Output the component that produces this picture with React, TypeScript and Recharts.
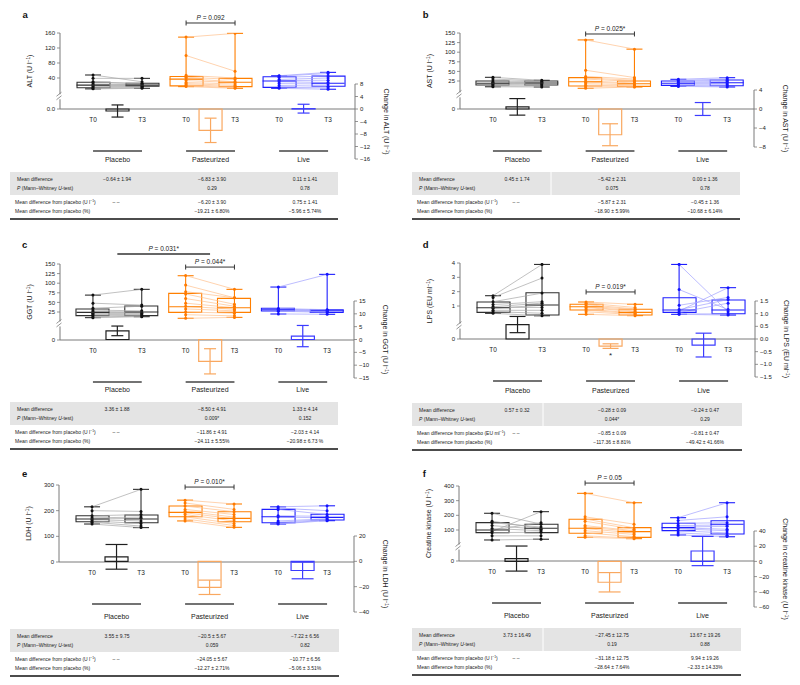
import React from 'react';
import { ComposedChart, Bar, Cell, Scatter, ErrorBar, XAxis, YAxis, ReferenceLine } from 'recharts';

const FONT = '"Liberation Sans", Arial, Helvetica, sans-serif';
const TEXT = '#222';
const AXIS = '#7a7a7a';

const groupNames = ['Placebo', 'Pasteurized', 'Live'];
const timeNames = ['T0', 'T3'];
const boxColors = ['#2f2f2f', '#ff7f00', '#1e1eff'];
const pointColors = ['#111111', '#ff7a00', '#1414ff'];
const pairColors = ['#a6a6a6', '#ffc08c', '#a0a0ff'];
const changeColors = ['#1f1f1f', '#f9a860', '#3c3cff'];
const tableRowLabels = ['Mean difference', 'Mean difference from placebo', 'Mean difference from placebo (%)'];

// ---------- a: ALT ----------
const altT0 = [
  [48, 39, 30, 28, 24, 22, 20, 17, 14, 12, 11],
  [149, 100, 47, 42, 38, 33, 28, 25, 22, 20, 17],
  [46, 45, 42, 36, 33, 30, 25, 20, 15, 12.5],
];
const altT3 = [
  [30, 39, 24, 26, 22, 21, 20, 18, 17, 15, 12.5],
  [159, 58, 40, 36, 30, 28, 24, 20, 17, 14, 12.5],
  [55, 52, 45, 40, 34, 28, 24, 18, 14, 10],
];
const altBoxT0 = [[11, 14, 21, 28.5, 48], [17, 19, 37, 44, 149], [12.5, 15, 32, 43.5, 46]];
const altBoxT3 = [[12.5, 18, 21, 26, 39], [12.5, 17, 28.5, 39, 159], [10, 18, 26, 45, 55]];
const altChange = [-0.64, -6.83, 0.11];
const altSem = [1.94, 3.9, 1.41];
const altSig = [false, false, false];
const altBracketP = ['0.092'];
const altMeanDiff = ['−0.64 ± 1.94', '−6.83 ± 3.90', '0.11 ± 1.41'];
const altMW = ['', '0.29', '0.78'];
const altDiffAbs = ['– –', '−6.20 ± 3.90', '0.75 ± 1.41'];
const altDiffPct = ['', '−19.21 ± 6.80%', '−5.96 ± 5.74%'];

// ---------- b: AST ----------
const astT0 = [
  [34.6, 30, 25, 22, 20, 19, 17, 15, 12, 10],
  [132, 53, 37, 33, 30, 25, 22, 18, 14, 10, 6],
  [29.4, 27, 25, 22, 20, 18, 15, 13, 11],
];
const astT3 = [
  [26.8, 25, 24, 22, 21, 19, 18, 15, 12, 9.4],
  [108, 34, 30, 27, 24, 20, 18, 15, 12, 10, 9.4],
  [33.7, 30, 27, 24, 21, 18, 15, 12, 9.4],
];
const astBoxT0 = [[10, 14.6, 19, 25, 34.6], [6, 12, 23, 33.7, 132], [11, 13.7, 19, 25, 29.4]];
const astBoxT3 = [[9.4, 14.6, 19.8, 25, 26.8], [9.4, 11, 18, 25, 108], [9.4, 12.8, 20.6, 27.6, 33.7]];
const astChange = [0.45, -5.42, 0.0];
const astSem = [1.74, 2.31, 1.36];
const astSig = [false, false, false];
const astBracketP = ['0.025*'];
const astMeanDiff = ['0.45 ± 1.74', '−5.42 ± 2.31', '0.00 ± 1.36'];
const astMW = ['', '0.075', '0.78'];
const astDiffAbs = ['– –', '−5.87 ± 2.31', '−0.45 ± 1.36'];
const astDiffPct = ['', '−18.90 ± 5.99%', '−10.68 ± 6.14%'];

// ---------- c: GGT ----------
const ggtT0 = [
  [69, 48, 35, 30, 26, 24, 22, 20, 18, 15, 12, 10.3],
  [120, 95, 78, 72, 60, 48, 40, 33, 25, 18, 8.6],
  [90, 34, 32, 31, 30, 28, 27, 20],
];
const ggtT3 = [
  [84, 43, 40, 28, 25, 24, 22, 20, 18, 16, 14, 12.8],
  [84, 62, 62, 45, 40, 36, 32, 28, 22, 15, 11],
  [123, 31, 30, 29, 28, 26, 24, 19],
];
const ggtBoxT0 = [[10.3, 15.5, 24, 32.8, 69], [8.6, 24, 38.8, 73.6, 119.5], [19.8, 27.6, 31, 34.6, 90]];
const ggtBoxT3 = [[12.8, 15.5, 25, 40.6, 84], [11, 24, 36, 60.6, 84], [19, 24, 28.4, 31, 123]];
const ggtChange = [3.36, -8.5, 1.33];
const ggtSem = [1.88, 4.91, 4.14];
const ggtSig = [false, true, false];
const ggtBracketP = ['0.044*', '0.031*'];
const ggtMeanDiff = ['3.36 ± 1.88', '−8.50 ± 4.91', '1.33 ± 4.14'];
const ggtMW = ['', '0.009*', '0.152'];
const ggtDiffAbs = ['– –', '−11.86 ± 4.91', '−2.03 ± 4.14'];
const ggtDiffPct = ['', '−24.11 ± 5.55%', '−20.98 ± 6.73 %'];

// ---------- d: LPS ----------
const lpsT0 = [
  [1.72, 1.6, 1.3, 1.1, 0.95, 0.9, 0.85, 0.7, 0.6, 0.49],
  [1.28, 1.2, 1.1, 1.0, 0.95, 0.9, 0.8, 0.72, 0.6, 0.42],
  [3.9, 2.15, 1.05, 0.75, 0.65, 0.55, 0.45, 0.42],
];
const lpsT3 = [
  [3.9, 2.95, 1.9, 1.3, 1.2, 0.9, 1.05, 0.7, 0.5, 0.32],
  [1.12, 0.9, 0.8, 0.75, 0.65, 0.6, 0.5, 0.45, 0.4, 0.33],
  [0.6, 0.75, 1.6, 1.45, 2.28, 1.2, 0.45, 0.37],
];
const lpsBoxT0 = [[0.49, 0.56, 0.88, 1.28, 1.72], [0.42, 0.72, 0.95, 1.12, 1.28], [0.42, 0.56, 0.72, 1.58, 3.9]];
const lpsBoxT3 = [[0.32, 0.37, 1.07, 1.93, 3.9], [0.33, 0.37, 0.56, 0.77, 1.12], [0.37, 0.46, 0.72, 1.42, 2.28]];
const lpsChange = [0.57, -0.28, -0.24];
const lpsSem = [0.32, 0.09, 0.47];
const lpsSig = [false, true, false];
const lpsBracketP = ['0.019*'];
const lpsMeanDiff = ['0.57 ± 0.32', '−0.28 ± 0.09', '−0.24 ± 0.47'];
const lpsMW = ['', '0.044*', '0.29'];
const lpsDiffAbs = ['– –', '−0.85 ± 0.09', '−0.81 ± 0.47'];
const lpsDiffPct = ['', '−117.36 ± 8.81%', '−49.42 ± 41.66%'];

// ---------- e: LDH ----------
const ldhT0 = [
  [215, 200, 180, 172, 168, 165, 160, 155, 148],
  [241, 230, 218, 205, 198, 192, 185, 176, 168, 160],
  [215, 210, 205, 180, 175, 160, 155, 150, 148],
];
const ldhT3 = [
  [283, 197, 185, 175, 170, 160, 150, 140, 134],
  [226, 205, 196, 185, 175, 168, 160, 150, 142, 135],
  [219, 200, 185, 178, 172, 168, 165, 163, 161],
];
const ldhBoxT0 = [[148, 157, 167.5, 180, 215], [160, 176.5, 193.5, 218, 241], [148, 153, 176.5, 205, 215]];
const ldhBoxT3 = [[134, 153, 167.5, 183, 283], [135, 157, 170, 196, 226], [161, 163.6, 174, 186, 219]];
const ldhChange = [3.55, -20.5, -7.22];
const ldhSem = [9.75, 5.67, 6.56];
const ldhSig = [false, false, false];
const ldhBracketP = ['0.010*'];
const ldhMeanDiff = ['3.55 ± 9.75', '−20.5 ± 5.67', '−7.22 ± 6.56'];
const ldhMW = ['', '0.059', '0.82'];
const ldhDiffAbs = ['– –', '−24.05 ± 5.67', '−10.77 ± 6.56'];
const ldhDiffPct = ['', '−12.27 ± 2.71%', '−5.06 ± 3.51%'];

// ---------- f: Creatine kinase ----------
const ckT0 = [
  [214, 160, 150, 130, 110, 100, 90, 82, 60, 32],
  [350, 190, 175, 160, 130, 120, 110, 95, 80, 60, 50],
  [184, 165, 145, 130, 120, 115, 108, 95, 80, 66],
];
const ckT3 = [
  [140, 110, 120, 105, 95, 150, 225, 85, 60, 37],
  [286, 140, 115, 105, 95, 90, 80, 70, 55, 45, 41],
  [286, 190, 150, 135, 125, 105, 95, 80, 65, 55],
];
const ckBoxT0 = [[32, 82, 100, 150, 214], [50, 77.5, 111.6, 173, 350], [66, 95.5, 116, 145.5, 184]];
const ckBoxT3 = [[37, 82, 111.6, 139, 225], [41, 50, 88.6, 116, 286], [54, 73, 139, 163, 286]];
const ckChange = [3.73, -27.45, 13.67];
const ckSem = [16.49, 12.75, 19.26];
const ckSig = [false, false, false];
const ckBracketP = ['0.05'];
const ckMeanDiff = ['3.73 ± 16.49', '−27.45 ± 12.75', '13.67 ± 19.26'];
const ckMW = ['', '0.19', '0.88'];
const ckDiffAbs = ['– –', '−31.18 ± 12.75', '9.94 ± 19.26'];
const ckDiffPct = ['', '−28.64 ± 7.64%', '−2.33 ± 14.33%'];

// ---------- layout (positions / styles only) ----------
const X_DOMAIN: [number, number] = [0, 12.05];
const T0_POS = [1.35, 5.15, 8.95];
type Kind = 'T0' | 'mid' | 'T3';
const KINDS: Kind[] = ['T0', 'mid', 'T3'];
const posOf = (g: number, k: Kind) => T0_POS[g] + (k === 'T0' ? 0 : k === 'mid' ? 1 : 2);
const X_TICKS = [0, 1, 2].flatMap((g) => KINDS.map((k) => posOf(g, k)));
const findKind = (v: number) => {
  for (let g = 0; g < 3; g++) for (const k of KINDS) if (Math.abs(posOf(g, k) - v) < 1e-6) return { g, k };
  return null;
};
const TABLE_COLS = [117, 212, 305];
const CHG_PAD = 14;

const layoutA = {
  ox: 0, oy: 0, plotL: 60, plotR: 355, valTop: 33, zeroY: 109, chgTop: 84, chgBot: 159,
  valDomain: [-42.67, 160], valTicks: [40, 80, 120, 160], zeroLabel: '0.0', breakAt: -10,
  chgDomain: [-16, 8], chgTicks: [-16, -12, -8, -4, 0, 4, 8], chgDigits: 0, cap: 6,
  brackets: [{ g1: 1, k1: 'T0', g2: 1, k2: 'T3', level: 186.7, ends: true, bold: false }],
  nameDy: 51, letterX: 22.5, letterY: 18, greyX: 10, greyW: 328, greyTop: 172, sepX: null,
};
const layoutB = {
  ox: 400, oy: 0, plotL: 460, plotR: 754, valTop: 33, zeroY: 109, chgTop: 90, chgBot: 147,
  valDomain: [-47.9, 150], valTicks: [25, 50, 75, 100, 125, 150], zeroLabel: '0', breakAt: -11,
  chgDomain: [-8, 4], chgTicks: [-8, -4, 0, 4], chgDigits: 0, cap: 8,
  brackets: [{ g1: 1, k1: 'T0', g2: 1, k2: 'T3', level: 147.4, ends: true, bold: false }],
  nameDy: 51, letterX: 22.7, letterY: 18, greyX: 12, greyW: 328, greyTop: 172, sepX: 151,
};
const layoutC = {
  ox: 0, oy: 228, plotL: 60, plotR: 354, valTop: 264, zeroY: 340, chgTop: 301, chgBot: 378,
  valDomain: [-47.9, 150], valTicks: [25, 50, 75, 100, 125, 150], zeroLabel: '0', breakAt: -6,
  chgDomain: [-15, 15], chgTicks: [-15, -10, -5, 0, 5, 10, 15], chgDigits: 0, cap: 6,
  brackets: [
    { g1: 1, k1: 'T0', g2: 1, k2: 'T3', level: 142, ends: true, bold: false },
    { g1: 0, k1: 'mid', g2: 1, k2: 'mid', level: 176, ends: false, bold: true },
  ],
  nameDy: 50, letterX: 22, letterY: 20, greyX: 10, greyW: 328, greyTop: 174, sepX: null,
};
const layoutD = {
  ox: 400, oy: 228, plotL: 460, plotR: 755, valTop: 263, zeroY: 339, chgTop: 301, chgBot: 377,
  valDomain: [-1.3, 4], valTicks: [1, 2, 3, 4], zeroLabel: '0', breakAt: -0.4,
  chgDomain: [-1.5, 1.5], chgTicks: [-1.5, -1, -0.5, 0, 0.5, 1, 1.5], chgDigits: 1, cap: 8,
  brackets: [{ g1: 1, k1: 'T0', g2: 1, k2: 'T3', level: 1.98, ends: true, bold: false }],
  nameDy: 52, letterX: 22.7, letterY: 20, greyX: 12, greyW: 330, greyTop: 175, sepX: 143,
};
const layoutE = {
  ox: 0, oy: 455, plotL: 59, plotR: 354, valTop: 485, zeroY: 562, chgTop: 536, chgBot: 612,
  valDomain: [0, 300], valTicks: [100, 200, 300], zeroLabel: '0', breakAt: null,
  chgDomain: [-40, 20], chgTicks: [-40, -20, 0, 20], chgDigits: 0, cap: 11,
  brackets: [{ g1: 1, k1: 'T0', g2: 1, k2: 'T3', level: 292, ends: true, bold: false }],
  nameDy: 55, letterX: 22, letterY: 22, greyX: 10, greyW: 329, greyTop: 174, sepX: null,
};
const layoutF = {
  ox: 400, oy: 455, plotL: 459, plotR: 754, valTop: 486, zeroY: 561, chgTop: 531, chgBot: 607,
  valDomain: [-111.4, 400], valTicks: [100, 200, 300, 400], zeroLabel: '0', breakAt: -16,
  chgDomain: [-60, 40], chgTicks: [-60, -40, -20, 0, 20, 40], chgDigits: 0, cap: 11,
  brackets: [{ g1: 1, k1: 'T0', g2: 1, k2: 'T3', level: 420, ends: true, bold: false }],
  nameDy: 55, letterX: 22.7, letterY: 22, greyX: 12, greyW: 329, greyTop: 173, sepX: 143,
};

const panels = [
  { letter: 'a', name: 'ALT', chgName: 'Change in ALT', unit: 'U l', t0: altT0, t3: altT3, boxT0: altBoxT0, boxT3: altBoxT3, change: altChange, sem: altSem, sig: altSig, bracketP: altBracketP, meanDiff: altMeanDiff, mw: altMW, diffAbs: altDiffAbs, diffPct: altDiffPct, layout: layoutA },
  { letter: 'b', name: 'AST', chgName: 'Change in AST', unit: 'U l', t0: astT0, t3: astT3, boxT0: astBoxT0, boxT3: astBoxT3, change: astChange, sem: astSem, sig: astSig, bracketP: astBracketP, meanDiff: astMeanDiff, mw: astMW, diffAbs: astDiffAbs, diffPct: astDiffPct, layout: layoutB },
  { letter: 'c', name: 'GGT', chgName: 'Change in GGT', unit: 'U l', t0: ggtT0, t3: ggtT3, boxT0: ggtBoxT0, boxT3: ggtBoxT3, change: ggtChange, sem: ggtSem, sig: ggtSig, bracketP: ggtBracketP, meanDiff: ggtMeanDiff, mw: ggtMW, diffAbs: ggtDiffAbs, diffPct: ggtDiffPct, layout: layoutC },
  { letter: 'd', name: 'LPS', chgName: 'Change in LPS', unit: 'EU ml', t0: lpsT0, t3: lpsT3, boxT0: lpsBoxT0, boxT3: lpsBoxT3, change: lpsChange, sem: lpsSem, sig: lpsSig, bracketP: lpsBracketP, meanDiff: lpsMeanDiff, mw: lpsMW, diffAbs: lpsDiffAbs, diffPct: lpsDiffPct, layout: layoutD },
  { letter: 'e', name: 'LDH', chgName: 'Change in LDH', unit: 'U l', t0: ldhT0, t3: ldhT3, boxT0: ldhBoxT0, boxT3: ldhBoxT3, change: ldhChange, sem: ldhSem, sig: ldhSig, bracketP: ldhBracketP, meanDiff: ldhMeanDiff, mw: ldhMW, diffAbs: ldhDiffAbs, diffPct: ldhDiffPct, layout: layoutE },
  { letter: 'f', name: 'Creatine kinase', chgName: 'Change in creatine kinase', unit: 'U l', t0: ckT0, t3: ckT3, boxT0: ckBoxT0, boxT3: ckBoxT3, change: ckChange, sem: ckSem, sig: ckSig, bracketP: ckBracketP, meanDiff: ckMeanDiff, mw: ckMW, diffAbs: ckDiffAbs, diffPct: ckDiffPct, layout: layoutF },
];

const fmt = (v: number, d: number) => (v < 0 ? '−' : '') + Math.abs(v).toFixed(d);

// "<name> (<unit>⁻¹)" with a real superscript built from tspans
const unitSpans = (name: string, unit: string, fs: number) => [
  `${name} (${unit}`,
  <tspan key="sup" dy={-fs * 0.38} fontSize={fs * 0.68}>−1</tspan>,
  <tspan key="end" dy={fs * 0.38}>)</tspan>,
];

const dotShape = (g: number) => (sp: any) => <circle cx={sp.cx} cy={sp.cy} r={1.5} fill={pointColors[g]} />;
const medianShape = (g: number) => (sp: any) => (
  <line x1={sp.cx - 16.5} x2={sp.cx + 16.5} y1={sp.cy} y2={sp.cy} stroke={boxColors[g]} strokeWidth={1.1} />
);
const emptyShape = () => <g />;
const starShape = (sp: any) => (
  <text x={sp.cx} y={sp.cy + 10} textAnchor="middle" fontSize={8} fill={TEXT} fontFamily={FONT}>*</text>
);
const bracketShape = (txt: string, ends: boolean, bold: boolean) => (sp: any) => {
  const { x1, y1, x2, y2 } = sp;
  const xm = (x1 + x2) / 2;
  return (
    <g>
      <line x1={x1} y1={y1} x2={x2} y2={y2} stroke="#333" strokeWidth={bold ? 1.6 : 1} />
      {ends && <line x1={x1} x2={x1} y1={y1 - 2.5} y2={y1 + 2.5} stroke="#333" strokeWidth={1} />}
      {ends && <line x1={x2} x2={x2} y1={y2 - 2.5} y2={y2 + 2.5} stroke="#333" strokeWidth={1} />}
      <text x={xm} y={y1 - 3} textAnchor="middle" fontSize={6.5} fill={TEXT} fontFamily={FONT}>
        <tspan fontStyle="italic">P</tspan>{` = ${txt}`}
      </text>
    </g>
  );
};

function Panel({ p }: { p: any }) {
  const L = p.layout;
  const axL = L.plotL - L.ox;
  const axR = L.plotR - L.ox;
  const zy = L.zeroY - L.oy;
  const pxUnit = (L.plotR - L.plotL) / (X_DOMAIN[1] - X_DOMAIN[0]);
  const H1 = zy + 64;
  const H2 = L.chgBot - L.oy + CHG_PAD;

  const boxRows: any[] = [];
  [0, 1, 2].forEach((g) => {
    boxRows.push({ x: posOf(g, 'T0'), range: [p.boxT0[g][1], p.boxT0[g][3]], g });
    boxRows.push({ x: posOf(g, 'T3'), range: [p.boxT3[g][1], p.boxT3[g][3]], g });
  });
  const whiskerRows = (g: number) =>
    [p.boxT0[g], p.boxT3[g]].map((b: number[], t: number) => ({
      x: posOf(g, t ? 'T3' : 'T0'),
      y: b[2],
      wh: [b[2] - b[0], b[4] - b[2]],
    }));
  const chgRows = [0, 1, 2].map((g) => ({ x: posOf(g, 'mid'), chg: p.change[g], g }));
  const valTicks = [L.valDomain[0], ...(L.breakAt != null ? [L.breakAt] : []), ...L.valTicks];

  const LeftTick = (tp: any) => {
    const v = tp.payload.value;
    const y = tp.y;
    if (L.breakAt != null && Math.abs(v - L.breakAt) < 1e-9) {
      return (
        <g>
          <rect x={axL - 4} y={y - 2.5} width={8} height={5} fill="#fff" />
          <line x1={axL - 3.5} y1={y - 0.5} x2={axL + 1.5} y2={y - 4.5} stroke={AXIS} strokeWidth={0.8} />
          <line x1={axL - 3.5} y1={y + 3} x2={axL + 1.5} y2={y - 1} stroke={AXIS} strokeWidth={0.8} />
        </g>
      );
    }
    const label = v === L.valDomain[0] ? L.zeroLabel : String(v);
    return (
      <g>
        <line x1={axL - 3} x2={axL} y1={y} y2={y} stroke={AXIS} strokeWidth={0.8} />
        <text x={axL - 5} y={y} dy="0.35em" textAnchor="end" fontSize={6} fill={TEXT} fontFamily={FONT}>{label}</text>
      </g>
    );
  };
  const XTick = (tp: any) => {
    const f = findKind(tp.payload.value);
    if (!f) return <g />;
    const x = tp.x;
    if (f.k === 'mid') {
      return (
        <g>
          <line x1={x - pxUnit} x2={x + pxUnit} y1={zy + 42} y2={zy + 42} stroke="#444" strokeWidth={1.3} />
          <text x={x} y={zy + L.nameDy} dy="0.35em" textAnchor="middle" fontSize={7} fill={TEXT} fontFamily={FONT}>{groupNames[f.g]}</text>
        </g>
      );
    }
    return (
      <text x={x} y={zy + 11} dy="0.35em" textAnchor="middle" fontSize={6.5} fill={TEXT} fontFamily={FONT}>
        {f.k === 'T0' ? timeNames[0] : timeNames[1]}
      </text>
    );
  };
  const RightTick = (tp: any) => {
    const y = tp.y;
    return (
      <g>
        <line x1={axR} x2={axR + 3} y1={y} y2={y} stroke={AXIS} strokeWidth={0.8} />
        <text x={axR + 5} y={y} dy="0.35em" textAnchor="start" fontSize={6} fill={TEXT} fontFamily={FONT}>{fmt(tp.payload.value, L.chgDigits)}</text>
      </g>
    );
  };

  const t = (x: number, y: number, s: any, anchor = 'start', key?: any) => (
    <text key={key} x={x} y={y} dy="0.35em" textAnchor={anchor} fontSize={5} fill={TEXT} fontFamily={FONT}>{s}</text>
  );
  const gt = L.greyTop;

  return (
    <div style={{ position: 'absolute', left: L.ox, top: L.oy, width: 400, height: 228 }}>
      <div style={{ position: 'absolute', left: 0, top: 0 }}>
        <ComposedChart width={400} height={H1} data={boxRows} margin={{ top: L.valTop - L.oy, right: 400 - axR, bottom: 4, left: axL - 30 }}>
          <XAxis xAxisId="x" dataKey="x" type="number" domain={X_DOMAIN} allowDataOverflow ticks={X_TICKS} interval={0} tick={XTick} tickLine={false} axisLine={{ stroke: AXIS, strokeWidth: 1 }} height={60} />
          <XAxis xAxisId="bx" dataKey="x" type="number" domain={X_DOMAIN} allowDataOverflow hide height={0} />
          <YAxis yAxisId="val" type="number" domain={L.valDomain} allowDataOverflow ticks={valTicks} interval={0} tick={LeftTick} tickLine={false} axisLine={{ stroke: AXIS, strokeWidth: 1 }} width={30} />
          {[0, 1, 2].flatMap((g) =>
            p.t0[g].map((v0: number, i: number) => (
              <Scatter
                key={`pair-${g}-${i}`}
                xAxisId="x"
                yAxisId="val"
                dataKey="y"
                data={[{ x: posOf(g, 'T0'), y: v0 }, { x: posOf(g, 'T3'), y: p.t3[g][i] }]}
                line={{ stroke: pairColors[g], strokeWidth: 0.7 }}
                shape={dotShape(g)}
                isAnimationActive={false}
              />
            ))
          )}
          <Bar xAxisId="bx" yAxisId="val" dataKey="range" barSize={33} isAnimationActive={false}>
            {boxRows.map((r, i) => (
              <Cell key={`box-${i}`} fill="none" stroke={boxColors[r.g]} strokeWidth={1.1} />
            ))}
          </Bar>
          {[0, 1, 2].map((g) => (
            <Scatter key={`wh-${g}`} xAxisId="x" yAxisId="val" dataKey="y" data={whiskerRows(g)} shape={medianShape(g)} isAnimationActive={false}>
              <ErrorBar dataKey="wh" direction="y" width={8} stroke={boxColors[g]} strokeWidth={1.1} isAnimationActive={false} />
            </Scatter>
          ))}
          {L.brackets.map((b: any, i: number) => (
            <ReferenceLine
              key={`br-${i}`}
              xAxisId="x"
              yAxisId="val"
              ifOverflow="visible"
              segment={[{ x: posOf(b.g1, b.k1), y: b.level }, { x: posOf(b.g2, b.k2), y: b.level }]}
              shape={bracketShape(p.bracketP[i], b.ends, b.bold)}
            />
          ))}
        </ComposedChart>
      </div>
      <div style={{ position: 'absolute', left: 0, top: 0 }}>
        <ComposedChart width={400} height={H2} data={chgRows} margin={{ top: L.chgTop - L.oy, right: 400 - axR - 30, bottom: CHG_PAD, left: axL }}>
          <XAxis xAxisId="bx" dataKey="x" type="number" domain={X_DOMAIN} allowDataOverflow hide height={0} />
          <XAxis xAxisId="ex" dataKey="x" type="number" domain={X_DOMAIN} allowDataOverflow hide height={0} />
          <YAxis yAxisId="chg" orientation="right" type="number" domain={L.chgDomain} allowDataOverflow ticks={L.chgTicks} interval={0} tick={RightTick} tickLine={false} axisLine={{ stroke: AXIS, strokeWidth: 1 }} width={30} />
          <Bar xAxisId="bx" yAxisId="chg" dataKey="chg" barSize={23} isAnimationActive={false}>
            {chgRows.map((r, i) => (
              <Cell key={`chg-${i}`} fill="none" stroke={changeColors[r.g]} strokeWidth={1.2} />
            ))}
          </Bar>
          {[0, 1, 2].map((g) => (
            <Scatter key={`err-${g}`} xAxisId="ex" yAxisId="chg" dataKey="y" data={[{ x: posOf(g, 'mid'), y: p.change[g], err: p.sem[g] }]} shape={emptyShape} isAnimationActive={false}>
              <ErrorBar dataKey="err" direction="y" width={L.cap} stroke={changeColors[g]} strokeWidth={1.2} isAnimationActive={false} />
            </Scatter>
          ))}
          {[0, 1, 2].filter((g) => p.sig[g]).map((g) => (
            <Scatter key={`sig-${g}`} xAxisId="ex" yAxisId="chg" dataKey="y" data={[{ x: posOf(g, 'mid'), y: p.change[g] - p.sem[g] }]} shape={starShape} isAnimationActive={false} />
          ))}
        </ComposedChart>
      </div>
      <svg width={400} height={228} style={{ position: 'absolute', left: 0, top: 0, overflow: 'visible', pointerEvents: 'none' }}>
        <text x={L.letterX} y={L.letterY} fontSize={9.5} fontWeight="bold" fill="#111" fontFamily={FONT}>{p.letter}</text>
        <text transform={`translate(${axL - 30} ${(L.valTop + L.zeroY) / 2 - L.oy}) rotate(-90)`} textAnchor="middle" dy="0.35em" fontSize={7} fill={TEXT} fontFamily={FONT}>
          {unitSpans(p.name, p.unit, 7)}
        </text>
        <text transform={`translate(${axR + 31} ${(L.chgTop + L.chgBot) / 2 - L.oy}) rotate(90)`} textAnchor="middle" dy="0.35em" fontSize={7} fill={TEXT} fontFamily={FONT}>
          {unitSpans(p.chgName, p.unit, 7)}
        </text>
        <rect x={L.greyX} y={gt} width={L.greyW} height={23} fill="#e4e4e4" />
        {L.sepX != null && <line x1={L.sepX} x2={L.sepX} y1={gt} y2={gt + 23} stroke="#fff" strokeWidth={1} />}
        {t(L.greyX + 7, gt + 7, tableRowLabels[0])}
        <text x={L.greyX + 7} y={gt + 16} dy="0.35em" fontSize={5} fill={TEXT} fontFamily={FONT}>
          <tspan fontStyle="italic">P</tspan> (Mann–Whitney <tspan fontStyle="italic">U</tspan>-test)
        </text>
        {t(L.greyX + 5, gt + 30, unitSpans(tableRowLabels[1], p.unit, 5))}
        {t(L.greyX + 5, gt + 39, tableRowLabels[2])}
        {p.meanDiff.map((s: string, i: number) => t(TABLE_COLS[i], gt + 7, s, 'middle', `md${i}`))}
        {p.mw.map((s: string, i: number) => t(TABLE_COLS[i], gt + 16, s, 'middle', `mw${i}`))}
        {p.diffAbs.map((s: string, i: number) => t(TABLE_COLS[i] - (i === 0 ? 1 : 0), gt + 30, s, 'middle', `da${i}`))}
        {p.diffPct.map((s: string, i: number) => t(TABLE_COLS[i], gt + 39, s, 'middle', `dp${i}`))}
        <line x1={L.greyX} x2={L.greyX + L.greyW} y1={gt + 47} y2={gt + 47} stroke="#111" strokeWidth={1.6} />
      </svg>
    </div>
  );
}

export default function App() {
  return (
    <div style={{ position: 'relative', width: 800, height: 685, background: '#fff', fontFamily: FONT, overflow: 'hidden' }}>
      <style>{'body{margin:0}'}</style>
      {panels.map((p) => (
        <Panel key={p.letter} p={p} />
      ))}
    </div>
  );
}
